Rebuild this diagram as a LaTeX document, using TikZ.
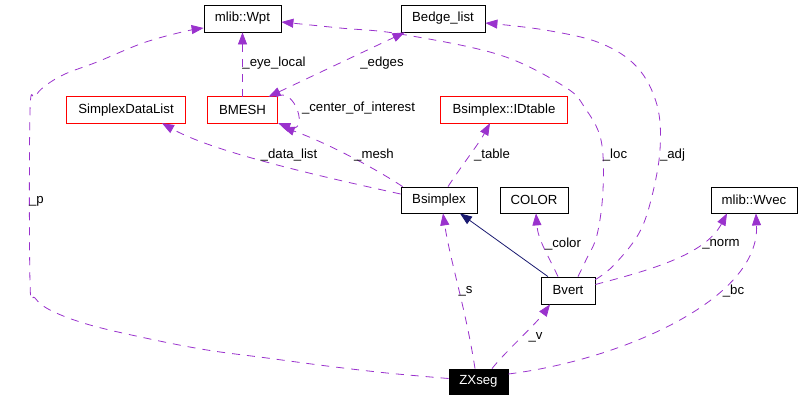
\documentclass[tikz,border=0pt]{standalone}
\usepackage{fontspec}
\setmainfont{Liberation Sans}
\usetikzlibrary{arrows.meta}
\definecolor{coll}{HTML}{9A32CD}
\definecolor{inh}{HTML}{191970}
\tikzset{
  box/.style={draw=black, line width=0.8pt, inner sep=0pt, minimum height=26pt, font=\fontsize{13.2}{15}\selectfont},
  redbox/.style={inner sep=0pt, minimum height=26pt, font=\fontsize{13.2}{15}\selectfont},
  blackbox/.style={box, fill=black, text=white},
  lbl/.style={inner sep=0pt, font=\fontsize{13.2}{15}\selectfont},
  redframe/.style={draw=red, line width=1.1pt},
  collar/.style={draw=coll, line width=0.8pt, dash pattern=on 8pt off 7pt, -{Triangle[length=12pt,width=9pt,fill=coll]}},
  inhar/.style={draw=inh, line width=0.8pt, -{Triangle[length=12pt,width=9pt,fill=inh]}},
}
\begin{document}
\begin{tikzpicture}[x=1pt, y=-1pt]
\useasboundingbox (0,0) rectangle (801,400);
\fill[white] (0,0) rectangle (801,400);
% nodes
\node[box, minimum width=77pt, minimum height=27pt] (Wpt) at (242.5,18.5) {mlib::Wpt};
\node[box, minimum width=84pt, minimum height=27pt] (Bedge) at (443,18.5) {Bedge\_list};
\node[redbox, minimum width=118pt] (SDL) at (126,110) {SimplexDataList};
\node[redbox, minimum width=69pt] (BMESH) at (242.5,110) {BMESH};
\node[redbox, minimum width=126pt] (IDt) at (504,110) {Bsimplex::IDtable};
\draw[redframe] (SDL.south west) rectangle (SDL.north east);
\draw[redframe] (BMESH.south west) rectangle (BMESH.north east);
\draw[redframe] (IDt.south west) rectangle (IDt.north east);
\node[box, minimum width=76pt] (Bsimplex) at (439,200) {Bsimplex};
\node[box, minimum width=68pt] (COLOR) at (534,200) {COLOR};
\node[box, minimum width=86pt] (Wvec) at (754,200) {mlib::Wvec};
\node[box, minimum width=54pt, minimum height=27pt] (Bvert) at (568,290.5) {Bvert};
\node[blackbox, minimum width=59pt, minimum height=25pt] (ZX) at (478.5,381.5) {ZXseg};

% edges
\draw[collar] plot[smooth, tension=0.6] coordinates {([yshift=3pt]ZX.west) (387,373) (327,366) (267,358) (207,350) (150,339) (90,325) (52,311) (35,298) (30,282) (30,112) (35,97) (45,86) (65,74) (97,62) (143,43) (182,32) ([yshift=-9.5pt]Wpt.west)};
\draw[collar] (BMESH.north) -- (Wpt.south);
\draw[collar, {Triangle[length=12pt,width=9pt,fill=coll]}-{Triangle[length=12pt,width=9pt,fill=coll]}] ([xshift=26pt]BMESH.north) -- ([xshift=4pt]Bedge.south west);
\draw[collar] ([xshift=-1pt]BMESH.north east) .. controls (295,85) and (310,135) .. ([xshift=1pt,yshift=0pt]BMESH.south east);
\draw[collar] ([yshift=6pt]Bsimplex.west) .. controls (300,172) and (210,150) .. ([xshift=36pt]SDL.south);
\draw[collar] ([xshift=2pt]Bsimplex.north west) .. controls (370,165) and (320,140) .. ([xshift=40pt,yshift=-4pt]BMESH.south);
\draw[collar] ([xshift=9pt]Bsimplex.north) .. controls (462,165) and (478,145) .. ([xshift=-14pt]IDt.south);
\draw[inhar] ([xshift=-20pt]Bvert.north) -- ([xshift=21pt]Bsimplex.south);
\draw[collar] ([xshift=-10pt]Bvert.north) .. controls (548,255) and (538,240) .. ([xshift=2pt]COLOR.south);
\draw[collar] plot[smooth, tension=0.6] coordinates {([xshift=10pt]Bvert.north) (586,260) (597,235) (603,190) (601,140) (585,108) (565,87) (500,55) (400,34) (340,28) ([yshift=-3.5pt]Wpt.east)};
\draw[collar] plot[smooth, tension=0.6] coordinates {([yshift=-3pt]Bvert.north east) (613,266) (638,235) (651,200) (660,150) (657,105) (637,67) (600,43) (545,30) ([yshift=-4.5pt]Bedge.east)};
\draw[collar] ([yshift=6pt]Bvert.east) .. controls (650,270) and (705,255) .. ([xshift=-27pt]Wvec.south);
\draw[collar] ([yshift=7.5pt]ZX.east) .. controls (620,360) and (760,300) .. ([xshift=2pt]Wvec.south);
\draw[collar] ([xshift=-3.5pt]ZX.north) .. controls (466,310) and (450,260) .. ([xshift=4pt]Bsimplex.south);
\draw[collar] ([xshift=13.5pt]ZX.north) .. controls (505,352) and (535,325) .. ([xshift=-18pt]Bvert.south);

% labels
\node[lbl] (lp) at (36.5,201) {\_p};
\node[lbl] (leye) at (274,63) {\_eye\_local};
\node[lbl] (ledges) at (382,63) {\_edges};
\node[lbl] (lcoi) at (358.5,108) {\_center\_of\_interest};
\node[lbl] (ldl) at (289,155) {\_data\_list};
\node[lbl] (lmesh) at (374,155) {\_mesh};
\node[lbl] (ltable) at (492,155) {\_table};
\node[lbl] (lloc) at (615,155) {\_loc};
\node[lbl] (ladj) at (672.5,155) {\_adj};
\node[lbl] (lcolor) at (563,244) {\_color};
\node[lbl] (lnorm) at (721,244) {\_norm};
\node[lbl] (ls) at (465.5,291) {\_s};
\node[lbl] (lbc) at (733.5,291) {\_bc};
\node[lbl] (lv) at (535.5,337) {\_v};
\end{tikzpicture}
\end{document}
